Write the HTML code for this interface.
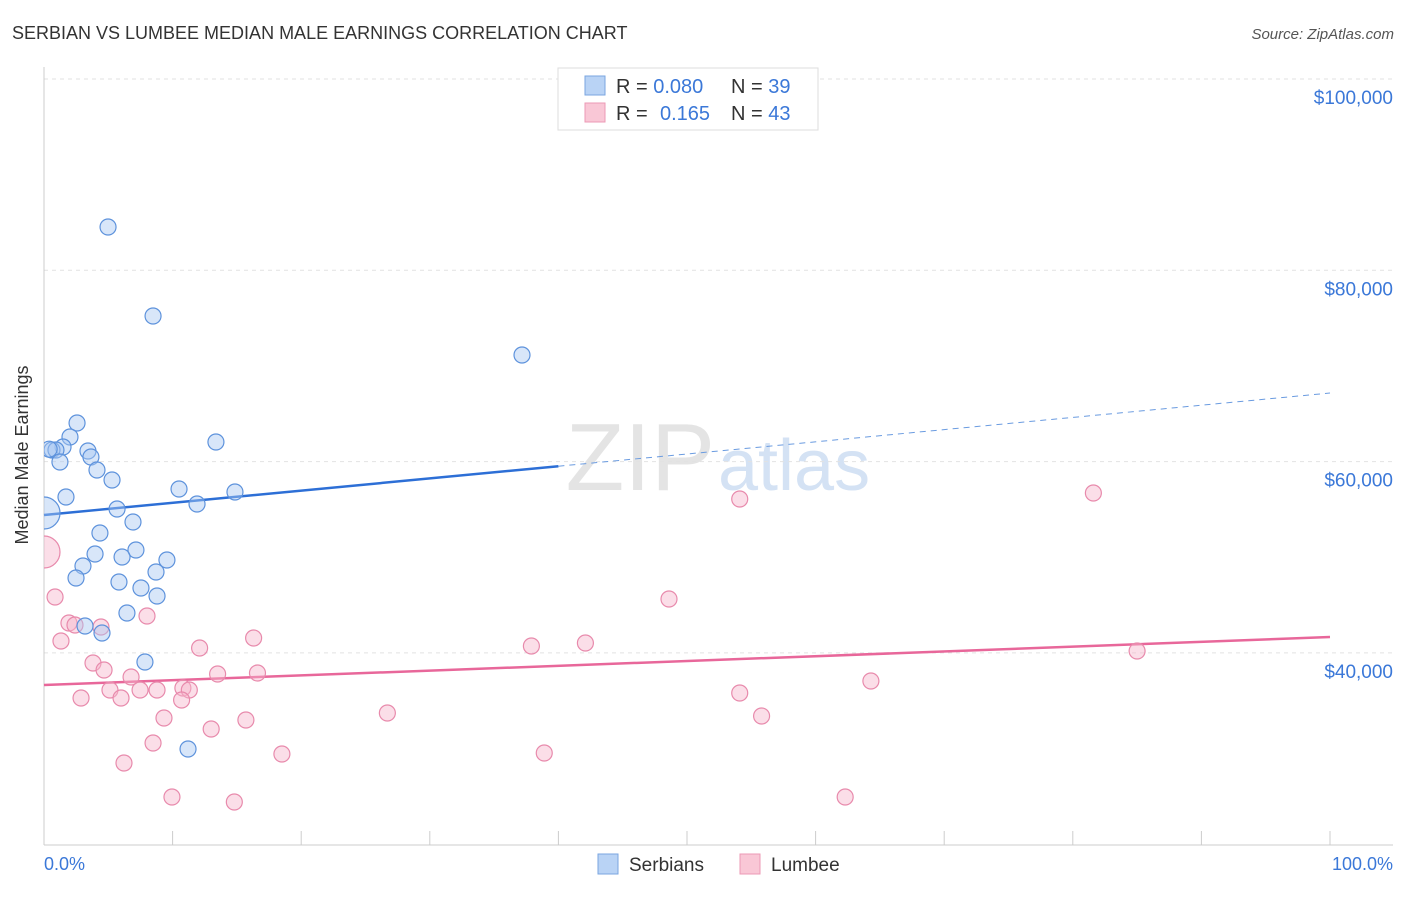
<!DOCTYPE html>
<html><head><meta charset="utf-8"><style>
body{margin:0;background:#fff;font-family:"Liberation Sans",sans-serif}
svg text{font-family:"Liberation Sans",sans-serif}
</style></head><body>
<svg id="chart" width="1406" height="892" viewBox="0 0 1406 892" xmlns="http://www.w3.org/2000/svg">
<defs><clipPath id="plotclip"><rect x="44" y="60" width="1360" height="785"/></clipPath></defs>
<text x="12" y="39" font-size="18" fill="#333">SERBIAN VS LUMBEE MEDIAN MALE EARNINGS CORRELATION CHART</text>
<text x="1394" y="39" font-size="15" fill="#555" font-style="italic" text-anchor="end">Source: ZipAtlas.com</text>
<text x="715" y="490" font-size="96" fill="#e4e4e4" font-family="Liberation Serif" text-anchor="end">ZIP</text>
<text x="718" y="490" font-size="72" fill="#d4e2f4">atlas</text>
<g id="grid"></g>
<line x1="44" y1="67" x2="44" y2="845" stroke="#ccc"/>
<line x1="44" y1="845" x2="1393" y2="845" stroke="#ccc"/>
<g id="ticks"></g>
<text x="28" y="455" font-size="18" fill="#333" text-anchor="middle" transform="rotate(-90 28 455)">Median Male Earnings</text>
<text x="44" y="870" font-size="18" fill="#3b78d8">0.0%</text>
<text x="1393" y="870" font-size="18" fill="#3b78d8" text-anchor="end">100.0%</text>
<g id="lines"></g>
<g id="points" clip-path="url(#plotclip)"></g>
<g>
<rect x="558" y="68" width="260" height="62" fill="#fff" stroke="#ddd"/>
<rect x="585" y="76" width="20" height="19" fill="#b9d3f5" stroke="#7aa6e0"/>
<rect x="585" y="103" width="20" height="19" fill="#f9c7d6" stroke="#ec9ab5"/>
<text x="616" y="93" font-size="20" fill="#333">R = <tspan fill="#3b78d8">0.080</tspan><tspan x="731">N = </tspan><tspan fill="#3b78d8">39</tspan></text>
<text x="616" y="120" font-size="20" fill="#333">R = <tspan x="660" fill="#3b78d8">0.165</tspan><tspan x="731">N = </tspan><tspan fill="#3b78d8">43</tspan></text>
</g>
<g>
<rect x="598" y="854" width="20" height="20" fill="#b9d3f5" stroke="#7aa6e0"/>
<text x="629" y="871" font-size="19" fill="#333">Serbians</text>
<rect x="740" y="854" width="20" height="20" fill="#f9c7d6" stroke="#ec9ab5"/>
<text x="771" y="871" font-size="19" fill="#333">Lumbee</text>
</g>
</svg>
<script>
const yTicks=[100000,80000,60000,40000];
const yTickLabels=["$100,000","$80,000","$60,000","$40,000"];
const serbX=[4.98,8.48,37.17,2.57,13.37,2.02,1.48,0.62,0.93,3.42,3.65,1.24,4.12,5.29,1.71,10.5,14.85,11.9,5.68,6.92,4.35,0,3.97,7.15,6.07,9.56,3.03,8.71,2.49,5.83,7.54,8.79,6.45,3.19,4.51,7.85,11.2,0.4];
const serbY=[84527,75222,71145,64036,62050,62573,61527,61214,61214,61109,60482,59959,59123,58077,56300,57136,56823,55568,55045,53686,52536,54627,50341,50759,50027,49714,49086,48459,47832,47414,46786,45950,44173,42814,42082,39050,29954,61300];
const serbBig=[0,0,0,0,0,0,0,0,0,0,0,0,0,0,0,0,0,0,0,0,0,1,0,0,0,0,0,0,0,0,0,0,0,0,0,0,0,0];
const lumX=[0,0.86,54.1,81.6,48.6,1.94,4.43,1.32,2.41,8.01,16.3,37.9,42.1,85.0,12.1,3.81,4.67,6.77,13.5,16.6,5.13,7.47,8.79,10.8,11.3,2.88,5.99,10.7,54.1,64.3,9.33,15.7,26.7,55.8,13.0,8.48,18.5,38.9,6.22,9.95,14.8,62.3];
const lumY=[50547,45843,56090,56718,45634,43125,42707,41243,42918,43859,41557,40720,41034,40198,40511,38943,38211,37479,37793,37897,36120,36120,36120,36329,36120,35284,35284,35075,35807,37061,33193,32984,33716,33402,32043,30579,29429,29534,28489,24934,24411,24934];
const lumBig=[1].concat(new Array(41).fill(0));
const serbTrend=[54416,67171];
const lumTrend=[36642,41661];
const serbSolidEnd=40;

const X=p=>44+p*12.86;
const Y=v=>79+(100000-v)*191.3/20000;
const NS="http://www.w3.org/2000/svg";
function mk(tag,attrs,parent){const e=document.createElementNS(NS,tag);for(const k in attrs)e.setAttribute(k,attrs[k]);document.getElementById(parent).appendChild(e);return e;}
yTicks.forEach((v,i)=>{
  const l=mk('line',{x1:44,x2:1393,y1:Y(v),y2:Y(v),stroke:'#e2e2e2','stroke-dasharray':'4,4'},'grid');
  
  
  const t=mk('text',{x:1393,y:Y(v)+25,'font-size':19,fill:'#3b78d8','text-anchor':'end'},'grid');
  t.textContent=yTickLabels[i];
  
  
});
for(let k=1;k<=10;k++){
  const l=mk('line',{x1:X(k*10),x2:X(k*10),y1:831,y2:845,stroke:'#ccc'},'ticks');
  
  
}
function line(t,x0,x1,col,dash,name){
  const v=p=>t[0]+(t[1]-t[0])*p/100;
  const a={x1:X(x0),y1:Y(v(x0)),x2:X(x1),y2:Y(v(x1)),stroke:col,'stroke-width':dash?1:2.5};
  if(dash)a['stroke-dasharray']='6,5';
  const l=mk('line',a,'lines');
  
  
}
line(serbTrend,0,serbSolidEnd,'#2d6fd6',false,'serbians-trend-line');
line(serbTrend,serbSolidEnd,100,'#6a9be0',true,'serbians-trend-extension');
line(lumTrend,0,100,'#e8679a',false,'lumbee-trend-line');
function pts(xs,ys,big,fill,stroke,name){
  xs.forEach((x,i)=>{
    const c=mk('circle',{cx:X(x),cy:Y(ys[i]),r:big[i]?16:8,fill:fill,'fill-opacity':0.45,stroke:stroke,'stroke-width':1.2},'points');
    
    
  });
}
pts(lumX,lumY,lumBig,'#f7b6cb','#e88aac','lumbee-point');
pts(serbX,serbY,serbBig,'#a9c8f2','#5d92dc','serbians-point');
</script>
</body></html>
